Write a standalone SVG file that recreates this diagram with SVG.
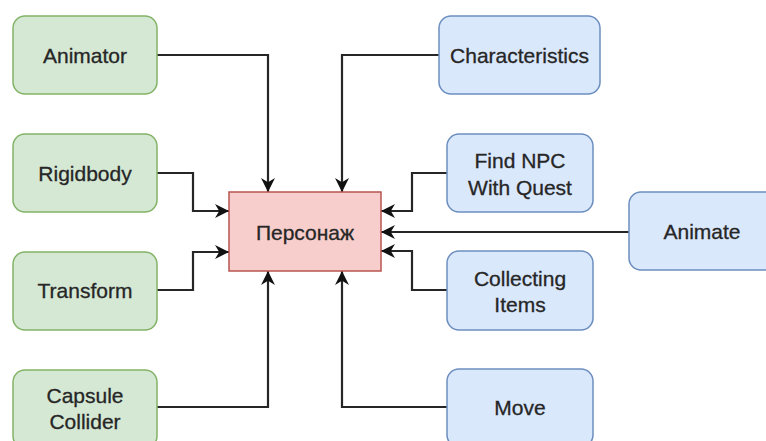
<svg xmlns="http://www.w3.org/2000/svg" width="766" height="441" viewBox="0 0 766 441">
<style>
.g{fill:#d5e8d4;stroke:#82b366;stroke-width:1.5}
.b{fill:#dae8fc;stroke:#6c8ebf;stroke-width:1.5}
.r{fill:#f8cecc;stroke:#b85450;stroke-width:1.5}
text{font-family:"Liberation Sans",Arial,sans-serif;font-size:21px;fill:#262626;text-anchor:middle;stroke:#262626;stroke-width:0.3}
.c{fill:none;stroke:#262626;stroke-width:2.2;marker-end:url(#arr)}
</style>
<defs>
<marker id="arr" viewBox="0 0 10 10" refX="10" refY="5" markerWidth="14" markerHeight="14" orient="auto" markerUnits="userSpaceOnUse">
<path d="M0,0 L10,5 L0,10 L3,5 z" fill="#111"/>
</marker>
</defs>
<rect width="766" height="441" fill="#fff"/>
<g id="connectors">
<path class="c" d="M157,55 H268 V192"/>
<path class="c" d="M439,55 H342 V192"/>
<path class="c" d="M157,173 H193 V211 H229"/>
<path class="c" d="M157,290 H193 V252 H229"/>
<path class="c" d="M157,407 H268 V271"/>
<path class="c" d="M447,407 H342 V271"/>
<path class="c" d="M447,173 H412 V211 H381"/>
<path class="c" d="M447,290 H412 V251 H381"/>
<path class="c" d="M629,232 H381"/>
</g>
<g id="animator"><rect class="g" x="13" y="16" width="144" height="78" rx="12"/><text x="85" y="63">Animator</text></g>
<g id="rigidbody"><rect class="g" x="13" y="134" width="144" height="78" rx="12"/><text x="85" y="181">Rigidbody</text></g>
<g id="transform"><rect class="g" x="13" y="252" width="144" height="78" rx="12"/><text x="85" y="298">Transform</text></g>
<g id="capsule"><rect class="g" x="13" y="370" width="144" height="78" rx="12"/><text x="85" y="403">Capsule</text><text x="85" y="429">Collider</text></g>
<g id="personazh"><rect class="r" x="229" y="192" width="152" height="79"/><text x="305" y="240">Персонаж</text></g>
<g id="characteristics"><rect class="b" x="439" y="16" width="161" height="78" rx="12"/><text x="519.5" y="63">Characteristics</text></g>
<g id="findnpc"><rect class="b" x="447" y="134" width="146" height="78" rx="12"/><text x="520" y="168">Find NPC</text><text x="520" y="195">With Quest</text></g>
<g id="animate"><rect class="b" x="629" y="192" width="148" height="78" rx="12"/><text x="702" y="239">Animate</text></g>
<g id="collecting"><rect class="b" x="447" y="251" width="146" height="79" rx="12"/><text x="520" y="286">Collecting</text><text x="520" y="312">Items</text></g>
<g id="move"><rect class="b" x="447" y="369" width="146" height="78" rx="12"/><text x="520" y="415">Move</text></g>
</svg>
